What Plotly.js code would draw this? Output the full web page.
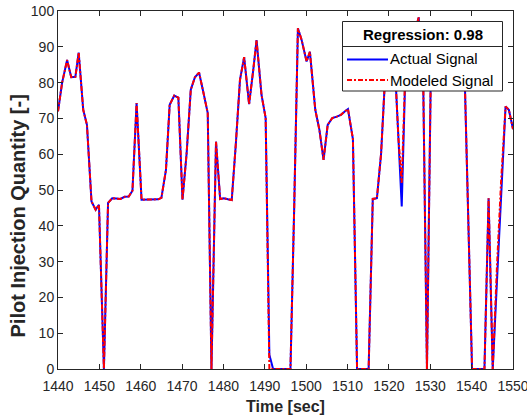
<!DOCTYPE html>
<html>
<head>
<meta charset="utf-8">
<script src="https://cdn.plot.ly/plotly-3.0.1.min.js"></script>
<style>html,body{margin:0;padding:0;background:#fff;}#chart{width:527px;height:419px;}</style>
</head>
<body>
<div id="chart"></div>
<script>
const time = [1440,1441,1442.2,1443.2,1444.2,1445,1446.1,1447,1448.1,1449.1,1449.9,1451.1,1452.1,1453.1,1454.1,1455.1,1456.1,1457.1,1458,1459,
1460.2,1461.2,1462.2,1463.2,1464.2,1465,1466.1,1467,1468.1,1469.1,1470.1,1471.1,1472.1,1473.1,1474.1,1475.1,1476.2,1477.1,1478.2,1479.2,
1480.1,1481.1,1482,1483,1484,1485,1486.2,1487.2,1488,1489.2,1490.2,1491.1,1492,1493,1494,1495,1496.2,1497.1,1498,1498.9,
1500.1,1500.9,1502.2,1503.2,1504.2,1505.2,1506.3,1507.4,1508.4,1509.4,1510.1,1511.3,1512.3,1513.3,1514.3,1515.1,1516.1,1517.1,1518.1,1519.1,
1520.2,1521.4,1522.3,1523.1,1524.1,1525.2,1526.2,1527.2,1528.3,1529.2,1530.1,1531.2,1532.2,1533.2,1534.2,1535.2,1536.2,1537.2,1538.4,1539.2,
1540.1,1541.1,1542.1,1543.1,1544.1,1545.1,1546.1,1547.1,1548.2,1549,1550];

const actualSignal = [72,80,86.3,81.5,81.6,88.4,72.4,68.2,46.8,44.5,45.9,0,46.4,47.7,47.6,47.5,48.1,48.2,49.8,74.3,
47.3,47.3,47.3,47.3,47.4,47.8,55.6,73.8,76.4,75.8,47.3,60.3,78,81.5,82.8,77.5,71.5,0,63.5,47.5,
47.7,47.4,47.2,63,80.8,87.1,74,83.5,91.9,76.6,70.1,4,0,0,0,0,0,45,95.2,91.9,
85.9,88.6,72.4,66.8,58.4,68.2,70.1,70.5,71,72,72.6,64.2,0,0,0,0,47.5,47.7,60,82,
92,86,64.5,45.4,88,92,94,98.2,80,0,80,90,92,95,93,90,92,88,78,41,
0,0,0,0,47.7,0,24,48,73.3,72.4,67];

const modeledSignal = [72,80,86.3,81.5,81.6,88.4,72.4,68.2,46.8,44.5,45.9,0,46.4,47.7,47.6,47.5,48.1,48.2,49.8,74.3,
47.3,47.3,47.3,47.3,47.4,47.8,55.6,73.8,76.4,75.8,47.3,60.3,78,81.5,82.8,77.5,71.5,0,63.5,47.5,
47.7,47.4,47.2,63,80.8,87.1,74,83.5,91.9,76.6,70.1,0,0,0,0,0,0,45,95.2,91.9,
85.9,88.6,72.4,66.8,58.4,68.2,70.1,70.5,71,72,72.6,64.2,0,0,0,0,47.5,47.7,60,82,
92,86,64.5,52,88,92,94,98.2,80,0,80,90,92,95,93,90,92,88,78,41,
0,0,0,0,47.7,0,28,52,73.3,72.4,67];

const xTicks = [1440,1450,1460,1470,1480,1490,1500,1510,1520,1530,1540,1550];
const yTicks = [0,10,20,30,40,50,60,70,80,90,100];
const seriesNames = ['Actual Signal','Modeled Signal'];
const legendTitle = 'Regression: 0.98';
const xTitle = 'Time [sec]';
const yTitle = 'Pilot Injection Quantity [-]';

const axisCol = '#262626';
const fontFam = '"Liberation Sans", Arial, Helvetica, sans-serif';

const traces = [
  {x: time, y: actualSignal, name: seriesNames[0], type: 'scatter', mode: 'lines',
   line: {color: '#0000ff', width: 2}, showlegend: false},
  {x: time, y: modeledSignal, name: seriesNames[1], type: 'scatter', mode: 'lines',
   line: {color: '#ff0000', width: 2, dash: '5px,2px,2px,2px'}, showlegend: false}
];

// plot area in pixels: x 58..513, y 11..369
const L = 58, R = 513, T = 11, B = 369;
const px = v => (v - L) / (R - L);
const py = v => (B - v) / (B - T);

const shapes = [
  {type: 'rect', xref: 'paper', yref: 'paper', x0: px(342.5), x1: px(502.5), y0: py(91), y1: py(21.5),
   fillcolor: '#ffffff', line: {color: axisCol, width: 1}, layer: 'above'},
  {type: 'line', xref: 'paper', yref: 'paper', x0: px(342.5), x1: px(502.5), y0: py(46.5), y1: py(46.5),
   line: {color: axisCol, width: 1}, layer: 'above'},
  {type: 'line', xref: 'paper', yref: 'paper', x0: px(347), x1: px(388), y0: py(59.5), y1: py(59.5),
   line: {color: '#0000ff', width: 2}, layer: 'above'},
  {type: 'line', xref: 'paper', yref: 'paper', x0: px(347), x1: px(388), y0: py(80), y1: py(80),
   line: {color: '#ff0000', width: 2, dash: '5px,2px,2px,2px'}, layer: 'above'}
];

const annotations = [
  {xref: 'paper', yref: 'paper', x: px(422.5), y: py(34), text: '<b>' + legendTitle + '</b>', showarrow: false,
   xanchor: 'center', yanchor: 'middle', font: {family: fontFam, size: 15, color: '#000'}},
  {xref: 'paper', yref: 'paper', x: px(390), y: py(59), text: seriesNames[0], showarrow: false,
   xanchor: 'left', yanchor: 'middle', xshift: -2, font: {family: fontFam, size: 15, color: '#000'}},
  {xref: 'paper', yref: 'paper', x: px(390), y: py(80), text: seriesNames[1], showarrow: false,
   xanchor: 'left', yanchor: 'middle', xshift: -2, font: {family: fontFam, size: 15, color: '#000'}},
  {xref: 'paper', yref: 'paper', x: px(17.5), y: py(216), text: '<b>' + yTitle + '</b>', showarrow: false,
   textangle: -90, xanchor: 'center', yanchor: 'middle', font: {family: fontFam, size: 20, color: axisCol}}
];

const layout = {
  width: 527, height: 419,
  margin: {l: L, r: 527 - R, t: T, b: 419 - B, pad: 0},
  paper_bgcolor: '#fff', plot_bgcolor: '#fff',
  font: {family: fontFam, color: axisCol},
  showlegend: false,
  xaxis: {
    range: [1440, 1550], tickvals: xTicks, ticktext: xTicks.map(String),
    ticks: 'inside', ticklen: 5, tickwidth: 1, tickcolor: axisCol,
    showline: true, linecolor: axisCol, linewidth: 1, mirror: 'ticks',
    showgrid: false, zeroline: false, ticklabelstandoff: 4, ticklabeloverflow: 'allow',
    tickfont: {family: fontFam, size: 14, color: axisCol},
    title: {text: '<b>' + xTitle + '</b>', font: {family: fontFam, size: 16, color: axisCol}, standoff: 8}
  },
  yaxis: {
    range: [0, 100], tickvals: yTicks, ticktext: yTicks.map(String),
    ticks: 'inside', ticklen: 5, tickwidth: 1, tickcolor: axisCol,
    showline: true, linecolor: axisCol, linewidth: 1, mirror: 'ticks',
    showgrid: false, zeroline: false, ticklabeloverflow: 'allow',
    tickfont: {family: fontFam, size: 14, color: axisCol}
  },
  shapes: shapes,
  annotations: annotations
};

Plotly.newPlot('chart', traces, layout, {displayModeBar: false, staticPlot: true});
</script>
</body>
</html>
